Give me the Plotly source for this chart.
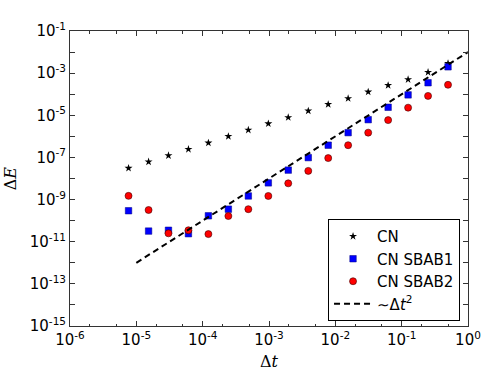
"""
Convergence de l'erreur d'énergie en fonction du pas de temps
"""

import plotly.graph_objects as go

# pas de temps
dt = [7.63e-6, 1.53e-5, 3.05e-5, 6.10e-5, 1.22e-4, 2.44e-4, 4.88e-4, 9.77e-4,
      1.95e-3, 3.91e-3, 7.81e-3, 1.56e-2, 3.13e-2, 6.25e-2, 0.125, 0.25, 0.5]

# erreurs
err_cn = [3.1e-8, 6.2e-8, 1.23e-7, 2.45e-7, 4.9e-7, 1.0e-6, 2.0e-6, 4.0e-6,
          7.9e-6, 1.62e-5, 3.3e-5, 6.3e-5, 1.29e-4, 2.63e-4, 5.0e-4, 1.1e-3, 2.9e-3]
err_sbab1 = [2.95e-10, 3.2e-11, 3.5e-11, 2.4e-11, 1.7e-10, 3.5e-10, 1.48e-9, 6.2e-9,
             2.5e-8, 9.8e-8, 3.8e-7, 1.5e-6, 6.2e-6, 2.4e-5, 9.3e-5, 3.5e-4, 2.0e-3]
err_sbab2 = [1.5e-9, 3.2e-10, 2.5e-11, 3.5e-11, 2.3e-11, 1.66e-10, 3.5e-10, 1.48e-9,
             5.9e-9, 2.3e-8, 9.3e-8, 3.8e-7, 1.5e-6, 5.9e-6, 2.3e-5, 8.3e-5, 2.8e-4]

# droite de référence ~ dt^2
dt_ref = [1e-5, 1.0]
err_ref = [1e-12, 1e-2]

# graduations
x_tickvals = [1e-6, 1e-5, 1e-4, 1e-3, 1e-2, 1e-1, 1e0]
x_ticktext = ['10<sup>-6</sup>', '10<sup>-5</sup>', '10<sup>-4</sup>', '10<sup>-3</sup>',
              '10<sup>-2</sup>', '10<sup>-1</sup>', '10<sup>0</sup>']
y_exps = list(range(-15, 0))
y_tickvals = [10.0 ** e for e in y_exps]
y_ticktext = [f'10<sup>{e}</sup>' if e % 2 else '' for e in y_exps]

fig = go.Figure()

fig.add_trace(go.Scatter(
    x=dt, y=err_cn, mode='markers', name='CN', legendgroup='a',
    marker=dict(symbol='star', size=6, color='black', line=dict(width=0))
))
fig.add_trace(go.Scatter(
    x=dt, y=err_sbab1, mode='markers', name='CN SBAB1', legendgroup='b',
    marker=dict(symbol='square', size=6.5, color='#0000ff', line=dict(width=0.5, color='#000080'))
))
fig.add_trace(go.Scatter(
    x=dt, y=err_sbab2, mode='markers', name='CN SBAB2', legendgroup='c',
    marker=dict(symbol='circle', size=7, color='#ff0000', line=dict(width=0.6, color='#400000'))
))
fig.add_trace(go.Scatter(
    x=dt_ref, y=err_ref, mode='lines', name='∼Δ<i>t</i><sup>2</sup>', legendgroup='d',
    line=dict(color='black', width=2, dash='6px,4px')
))

axis_common = dict(
    type='log', showline=True, linecolor='#333333', linewidth=1, mirror='allticks',
    ticks='inside', ticklen=5, tickcolor='#333333', showgrid=False, zeroline=False,
    tickfont=dict(family='DejaVu Sans', size=15, color='black'),
)

fig.update_xaxes(
    range=[-6, 0], tickvals=x_tickvals, ticktext=x_ticktext,
    minor=dict(ticks='inside', ticklen=2.5, tickcolor='#333333', showgrid=False),
    **axis_common
)
fig.update_yaxes(
    range=[-15, -1], tickvals=y_tickvals, ticktext=y_ticktext,
    **axis_common
)

# titres des axes placés à la main
title_font = dict(family='DejaVu Serif', size=16, color='black')
fig.add_annotation(
    text='Δ<i>t</i>', xref='paper', yref='paper', x=0.5, y=-0.12,
    xanchor='center', yanchor='middle', showarrow=False, font=title_font,
)
fig.add_annotation(
    text='Δ<i>E</i>', xref='paper', yref='paper', x=-0.149, y=0.5,
    xanchor='center', yanchor='middle', textangle=-90, showarrow=False, font=title_font,
)

# la page garde 8 px de marge en haut : hauteur réduite d'autant
fig.update_layout(
    width=498, height=368,
    margin=dict(l=70, r=30, t=18, b=50),
    plot_bgcolor='white', paper_bgcolor='white',
    legend=dict(
        x=0.98, y=0.017, xanchor='right', yanchor='bottom',
        bordercolor='black', borderwidth=1, bgcolor='white',
        font=dict(family='DejaVu Sans', size=15, color='black'),
        tracegroupgap=0, itemwidth=38,
    ),
)

# pas de marge à gauche ni à droite dans la page
fig.write_html(
    "out.html",
    config={'displayModeBar': False},
    post_script="document.body.style.marginLeft='0'; document.body.style.marginRight='0';",
)
